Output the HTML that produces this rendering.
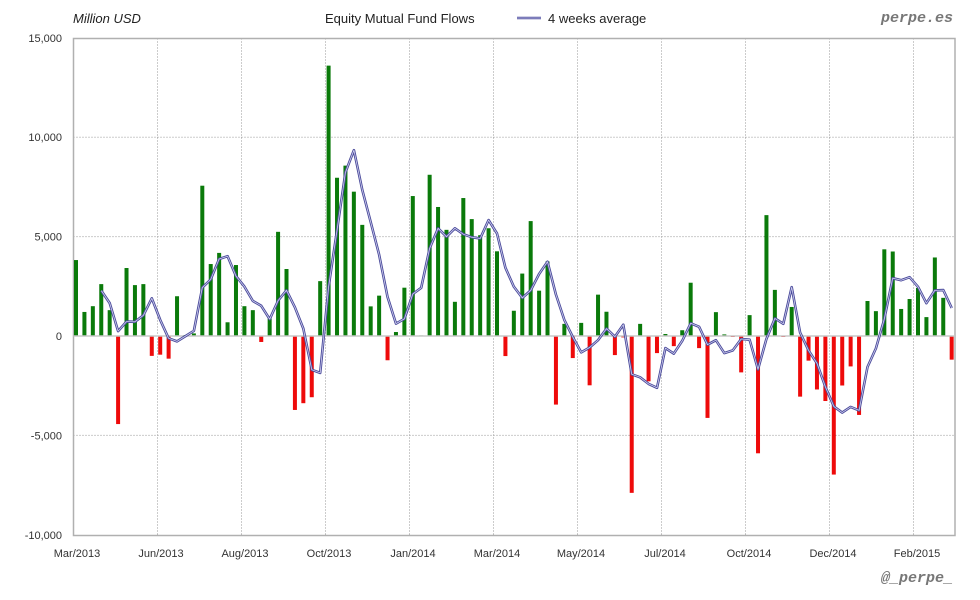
<!DOCTYPE html>
<html><head><meta charset="utf-8">
<style>
html,body{margin:0;padding:0;background:#fff;}
svg{display:block;font-family:"Liberation Sans","DejaVu Sans",sans-serif;}
</style></head><body>
<svg id="c" width="980" height="600" xmlns="http://www.w3.org/2000/svg">
<rect width="980" height="600" fill="#fff"/>
<g id="grid"></g>
<rect x="73.5" y="38.5" width="881.5" height="497" fill="none" stroke="#b0b0b0" stroke-width="1.5"/>
<g id="bars"></g>
<line x1="73.5" y1="336" x2="955" y2="336" stroke="#c8c8c8" stroke-width="1.5"/>
<g id="line"></g>
<g font-size="11" fill="#333" text-anchor="end" id="ylab"></g>
<g font-size="11" fill="#333" text-anchor="middle" id="xlab"></g>
<text x="73" y="23" font-size="13" font-style="italic" fill="#222">Million USD</text>
<text x="325" y="23" font-size="13" fill="#222">Equity Mutual Fund Flows</text>
<line x1="517" y1="18" x2="541" y2="18" stroke="#4a4a9a" stroke-width="2.6"/>
<line x1="517" y1="18" x2="541" y2="18" stroke="#d0d0f0" stroke-width="0.8"/>
<text x="548" y="23" font-size="13" fill="#222">4 weeks average</text>
<text x="953" y="22" font-size="15" font-weight="bold" font-style="italic" fill="#777" text-anchor="end" font-family="Liberation Mono, monospace">perpe.es</text>
<text x="953" y="582" font-size="15" font-weight="bold" font-style="italic" fill="#777" text-anchor="end" font-family="Liberation Mono, monospace">@_perpe_</text>
</svg>
<script>
var d=[3.82,1.21,1.5,2.61,1.3,-4.43,3.42,2.56,2.61,-1.0,-0.94,-1.14,2.0,0.05,0.13,7.56,3.62,4.18,0.69,3.57,1.5,1.3,-0.3,0.88,5.24,3.37,-3.72,-3.38,-3.08,2.76,13.6,7.96,8.57,7.26,5.59,
1.49,2.03,-1.22,0.2,2.43,7.04,0.03,8.11,6.49,5.34,1.72,6.94,5.88,5.07,5.42,4.26,-1.01,1.27,3.14,5.78,2.28,3.75,-3.45,0.61,-1.11,0.66,-2.48,2.08,1.22,-0.96,-0.07,-7.89,0.61,-2.28,-0.86,0.1,
-0.51,0.29,2.68,-0.61,-4.12,1.2,0.08,-0.05,-1.83,1.05,-5.9,6.08,2.32,-0.05,1.46,-3.05,-1.24,-2.69,-3.27,-6.97,-2.49,-1.53,-3.97,1.76,1.25,4.36,4.25,1.36,1.86,2.42,0.95,3.95,1.92,-1.19];
var NS="http://www.w3.org/2000/svg";
function el(p,t,a,tx){var e=document.createElementNS(NS,t);for(var k in a)e.setAttribute(k,a[k]);if(tx)e.textContent=tx;document.getElementById(p).appendChild(e);}
function Y(v){return 336-v*19.88;}
var yv=[15,10,5,0,-5,-10],yl=["15,000","10,000","5,000","0","-5,000","-10,000"];
for(var i=0;i<6;i++){var y=Y(yv[i]);if(i>0&&i<5&&i!=3)el("grid","line",{x1:73.5,x2:955,y1:y,y2:y,stroke:"#999","stroke-dasharray":"1,2"});el("ylab","text",{x:62,y:y+4},yl[i]);}
var xl=["Mar/2013","Jun/2013","Aug/2013","Oct/2013","Jan/2014","Mar/2014","May/2014","Jul/2014","Oct/2014","Dec/2014","Feb/2015"];
for(var i=0;i<11;i++){var x=76+84*i;if(i>0)el("grid","line",{x1:x-2.5,x2:x-2.5,y1:38.5,y2:535.5,stroke:"#999","stroke-dasharray":"1,2"});el("xlab","text",{x:x+1,y:557},xl[i]);}
var pts=[];
for(var i=0;i<d.length;i++){var x=76+i*8.42,v=d[i],y=Y(v);
el("bars","rect",{x:x-2,y:Math.min(y,336),width:4,height:Math.abs(y-336),fill:v>=0?"#0a7a0a":"#ee0a0a"});
if(i>=3){var a=(d[i]+d[i-1]+d[i-2]+d[i-3])/4;pts.push(x.toFixed(1)+","+Y(a).toFixed(1));}}
el("line","polyline",{points:pts.join(" "),fill:"none",stroke:"#4a4a9a","stroke-width":2.6,"stroke-linejoin":"round"});
el("line","polyline",{points:pts.join(" "),fill:"none",stroke:"#d0d0f0","stroke-width":0.8,"stroke-linejoin":"round"});
</script>
</body></html>
